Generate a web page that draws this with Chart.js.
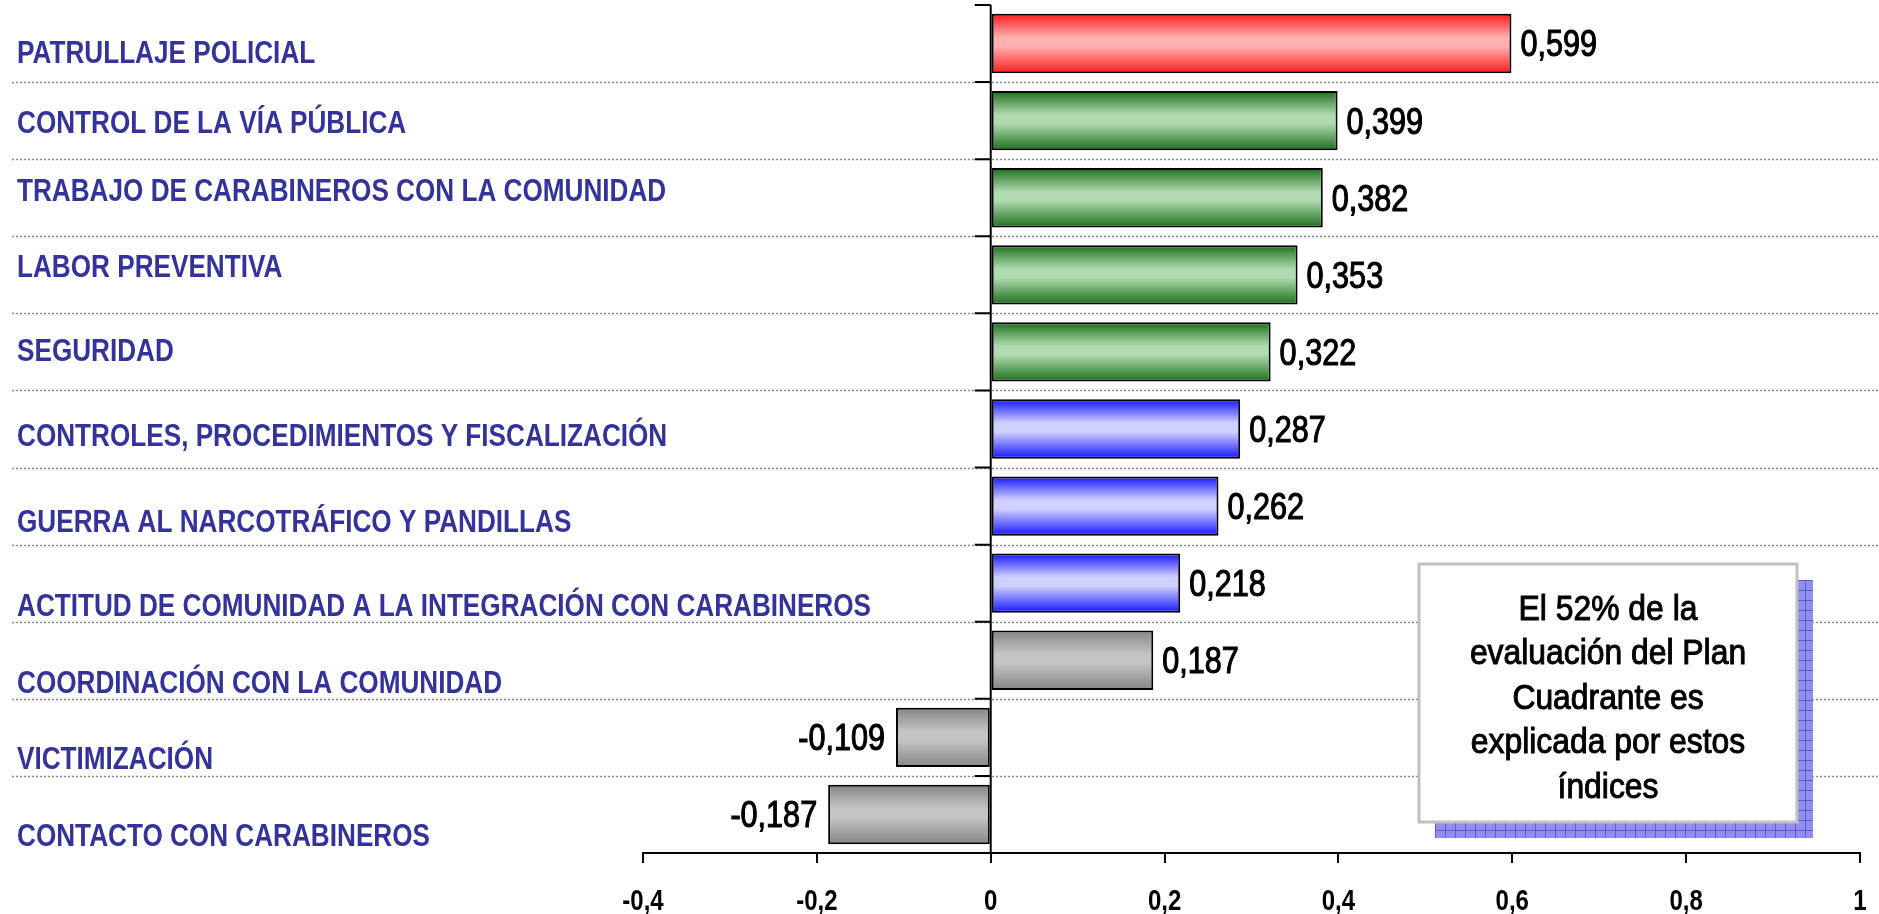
<!DOCTYPE html>
<html>
<head>
<meta charset="utf-8">
<script src="https://cdn.jsdelivr.net/npm/chart.js@4.4.1/dist/chart.umd.min.js"></script>
<style>
  html, body { margin: 0; padding: 0; background: #fff; }
  #wrap { width: 1879px; height: 914px; }
</style>
</head>
<body>
<div id="wrap"><canvas id="canvas" width="1879" height="914"></canvas></div>
<script>
// data
const categories = [
    'PATRULLAJE POLICIAL',
    'CONTROL DE LA VÍA PÚBLICA',
    'TRABAJO DE CARABINEROS CON LA COMUNIDAD',
    'LABOR PREVENTIVA',
    'SEGURIDAD',
    'CONTROLES, PROCEDIMIENTOS Y FISCALIZACIÓN',
    'GUERRA AL NARCOTRÁFICO Y PANDILLAS',
    'ACTITUD DE COMUNIDAD A LA INTEGRACIÓN CON CARABINEROS',
    'COORDINACIÓN CON LA COMUNIDAD',
    'VICTIMIZACIÓN',
    'CONTACTO CON CARABINEROS'
];
const values = [0.599, 0.399, 0.382, 0.353, 0.322, 0.287, 0.262, 0.218, 0.187, -0.109, -0.187];
const xTicks = [-0.4, -0.2, 0, 0.2, 0.4, 0.6, 0.8, 1];
const noteLines = ['El 52% de la', 'evaluación del Plan', 'Cuadrante es', 'explicada por estos', 'índices'];

// styles
const tone = ['red', 'green', 'green', 'green', 'green', 'blue', 'blue', 'blue', 'gray', 'gray', 'gray'];
const tones = {
    red:   ['#ff1c1c', '#ffb0b0'],
    green: ['#1b6f1b', '#b0dab0'],
    blue:  ['#1414ff', '#d0d0ff'],
    gray:  ['#858585', '#c4c4c4']
};
const labelShift = [8, 1, -8, -9, -2, 6, 14, 21, 21, 20, 20]; // the labels sit a bit off the bars
const FONT = "'Liberation Sans', Arial, sans-serif";
const BAR_PCT = 0.77;

function comma(v) {
    return String(v).replace('.', ',');
}

function barFill(c) {
    const chart = c.chart;
    const ys = chart.scales.y;
    if (!chart.chartArea || !ys) return '#999';
    const cy = ys.getPixelForValue(c.dataIndex);
    const half = ys.height / categories.length * BAR_PCT / 2;
    const t = tones[tone[c.dataIndex]];
    const g = chart.ctx.createLinearGradient(0, cy - half, 0, cy + half);
    g.addColorStop(0, t[0]);
    g.addColorStop(0.4, t[1]);
    g.addColorStop(0.55, t[1]);
    g.addColorStop(1, t[0]);
    return g;
}

// narrow text; heavy adds a thin outline so it looks like a medium weight
function squeezed(ctx, text, x, y, align, sx, heavy) {
    ctx.save();
    ctx.translate(x, y);
    ctx.scale(sx, 1);
    ctx.textAlign = align;
    ctx.textBaseline = 'alphabetic';
    ctx.fillText(text, 0, 0);
    if (heavy) {
        ctx.lineWidth = heavy;
        ctx.strokeStyle = ctx.fillStyle;
        ctx.strokeText(text, 0, 0);
    }
    ctx.restore();
}

const decor = {
    id: 'decor',
    beforeDatasetsDraw(chart) {
        const ctx = chart.ctx, ys = chart.scales.y;
        // dotted separators across the whole slide
        ctx.save();
        ctx.strokeStyle = '#8a8a8a';
        ctx.lineWidth = 1.5;
        ctx.setLineDash([2, 2]);
        for (let i = 0; i < categories.length - 1; i++) {
            const y = Math.round(ys.getPixelForValue(i + 0.5)) + 0.5;
            ctx.beginPath();
            ctx.moveTo(12, y);
            ctx.lineTo(chart.width, y);
            ctx.stroke();
        }
        ctx.restore();
    },
    afterDatasetsDraw(chart) {
        const ctx = chart.ctx, xs = chart.scales.x, ys = chart.scales.y, area = chart.chartArea;
        const x0 = xs.getPixelForValue(0);

        // zero line with category ticks
        ctx.save();
        ctx.strokeStyle = '#000';
        ctx.lineWidth = 2;
        ctx.beginPath();
        ctx.moveTo(x0, area.top);
        ctx.lineTo(x0, area.bottom);
        for (let i = 0; i <= categories.length; i++) {
            const y = ys.getPixelForValue(i - 0.5);
            ctx.moveTo(x0 - 16, y);
            ctx.lineTo(x0, y);
        }
        ctx.stroke();

        // category names
        ctx.fillStyle = '#333399';
        ctx.font = 'bold 32px ' + FONT;
        categories.forEach((name, i) => {
            const cy = ys.getPixelForValue(i) + labelShift[i];
            squeezed(ctx, name, 17, cy + 0.358 * 32, 'left', 0.817, 0);
        });

        // value labels
        ctx.fillStyle = '#000';
        ctx.font = '36px ' + FONT;
        const meta = chart.getDatasetMeta(0);
        meta.data.forEach((bar, i) => {
            const v = values[i];
            const base = bar.y + 0.358 * 36;
            if (v >= 0) squeezed(ctx, comma(v), bar.x + 9, base, 'left', 0.85, 1.1);
            else squeezed(ctx, comma(v), bar.x - 11, base, 'right', 0.85, 1.1);
        });

        // x tick labels
        ctx.font = 'bold 30px ' + FONT;
        xs.ticks.forEach(t => {
            squeezed(ctx, comma(t.value), xs.getPixelForValue(t.value), 899 + 0.358 * 30, 'center', 0.8, 0);
        });

        // note box with hatched shadow
        const bx = 1419, by = 564, bw = 378, bh = 258, off = 16;
        ctx.fillStyle = '#9090ec';
        ctx.fillRect(bx + off, by + off, bw, bh);
        ctx.strokeStyle = '#5a5ad8';
        ctx.lineWidth = 1;
        ctx.beginPath();
        for (let x = bx + off; x <= bx + off + bw; x += 10) {
            ctx.moveTo(x + 0.5, by + off);
            ctx.lineTo(x + 0.5, by + off + bh);
        }
        for (let y = by + off; y <= by + off + bh; y += 10) {
            ctx.moveTo(bx + off, y + 0.5);
            ctx.lineTo(bx + off + bw, y + 0.5);
        }
        ctx.stroke();
        ctx.fillStyle = '#fff';
        ctx.fillRect(bx, by, bw, bh);
        ctx.strokeStyle = '#c0c0c0';
        ctx.lineWidth = 3;
        ctx.strokeRect(bx, by, bw, bh);

        ctx.fillStyle = '#000';
        ctx.font = '35px ' + FONT;
        noteLines.forEach((line, i) => {
            squeezed(ctx, line, bx + bw / 2, 607 + i * 44.6 + 0.358 * 35, 'center', 0.91, 1);
        });
        ctx.restore();
    }
};

const ctx = document.getElementById('canvas').getContext('2d');
const myChart = new Chart(ctx, {
    type: 'bar',
    data: {
        labels: categories,
        datasets: [{
            data: values,
            backgroundColor: barFill,
            borderColor: '#000',
            borderWidth: 2,
            borderSkipped: false,
            barPercentage: BAR_PCT,
            categoryPercentage: 1
        }]
    },
    options: {
        indexAxis: 'y',
        responsive: false,
        animation: false,
        layout: { padding: { left: 643, right: 19, top: 5, bottom: 0 } },
        plugins: { legend: { display: false }, tooltip: { enabled: false } },
        scales: {
            x: {
                min: -0.4,
                max: 1,
                afterBuildTicks: s => { s.ticks = xTicks.map(v => ({ value: v })); },
                afterFit: s => { s.height = 61; },
                grid: { drawOnChartArea: false, drawTicks: true, tickLength: 10, color: '#000', lineWidth: 2 },
                border: { color: '#000', width: 2 },
                // real labels are drawn narrow by the plugin
                ticks: { color: 'transparent', font: { size: 4 }, padding: 0, maxRotation: 0 }
            },
            y: {
                display: false,
                offset: true
            }
        }
    },
    plugins: [decor]
});
</script>
</body>
</html>
